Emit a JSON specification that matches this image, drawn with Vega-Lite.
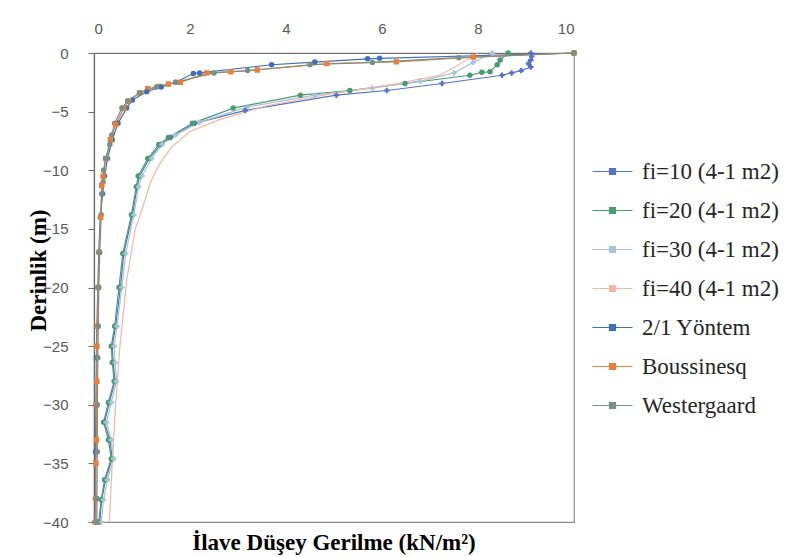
{
 "$schema": "https://vega.github.io/schema/vega-lite/v6.json",
 "width": 480, "height": 469,
 "autosize": "none",
 "padding": {"left": 94, "top": 53, "right": 213, "bottom": 35},
 "background": "white",
 "config": {"view": {"stroke": "#8c8c8c", "strokeWidth": 1.2}},
 "title": {"text": "İlave Düşey Gerilme (kN/m²)", "orient": "bottom", "anchor": "middle", "frame": "group", "font": "Liberation Serif", "fontSize": 23, "fontWeight": "bold", "color": "#000000", "offset": 2},
 "data": {"values": [
  {"s":"fi=10 (4-1 m2)","x":9.1,"d":0},{"s":"fi=10 (4-1 m2)","x":9.12,"d":-0.3},{"s":"fi=10 (4-1 m2)","x":9.1,"d":-0.6},{"s":"fi=10 (4-1 m2)","x":9.05,"d":-0.9},{"s":"fi=10 (4-1 m2)","x":9.1,"d":-1.2},{"s":"fi=10 (4-1 m2)","x":8.9,"d":-1.5},{"s":"fi=10 (4-1 m2)","x":8.7,"d":-1.7},{"s":"fi=10 (4-1 m2)","x":8.5,"d":-1.9},{"s":"fi=10 (4-1 m2)","x":7.25,"d":-2.6},{"s":"fi=10 (4-1 m2)","x":6.1,"d":-3.2},{"s":"fi=10 (4-1 m2)","x":5.05,"d":-3.6},{"s":"fi=10 (4-1 m2)","x":3.15,"d":-4.9},{"s":"fi=10 (4-1 m2)","x":2.1,"d":-6.0},{"s":"fi=10 (4-1 m2)","x":1.6,"d":-7.2},{"s":"fi=10 (4-1 m2)","x":1.4,"d":-7.8},{"s":"fi=10 (4-1 m2)","x":1.15,"d":-9.0},{"s":"fi=10 (4-1 m2)","x":0.95,"d":-10.5},{"s":"fi=10 (4-1 m2)","x":0.9,"d":-11.4},{"s":"fi=10 (4-1 m2)","x":0.8,"d":-13.8},{"s":"fi=10 (4-1 m2)","x":0.62,"d":-17.1},{"s":"fi=10 (4-1 m2)","x":0.55,"d":-20.0},{"s":"fi=10 (4-1 m2)","x":0.45,"d":-23.3},{"s":"fi=10 (4-1 m2)","x":0.38,"d":-25.0},{"s":"fi=10 (4-1 m2)","x":0.4,"d":-26.4},{"s":"fi=10 (4-1 m2)","x":0.44,"d":-28.0},{"s":"fi=10 (4-1 m2)","x":0.32,"d":-29.8},{"s":"fi=10 (4-1 m2)","x":0.22,"d":-31.5},{"s":"fi=10 (4-1 m2)","x":0.33,"d":-33.0},{"s":"fi=10 (4-1 m2)","x":0.38,"d":-34.6},{"s":"fi=10 (4-1 m2)","x":0.24,"d":-36.4},{"s":"fi=10 (4-1 m2)","x":0.16,"d":-38.1},{"s":"fi=10 (4-1 m2)","x":0.12,"d":-40},

  {"s":"fi=20 (4-1 m2)","x":8.63,"d":0},{"s":"fi=20 (4-1 m2)","x":8.46,"d":-0.6},{"s":"fi=20 (4-1 m2)","x":8.4,"d":-1.0},{"s":"fi=20 (4-1 m2)","x":8.25,"d":-1.6},{"s":"fi=20 (4-1 m2)","x":8.08,"d":-1.65},{"s":"fi=20 (4-1 m2)","x":7.83,"d":-1.9},{"s":"fi=20 (4-1 m2)","x":6.48,"d":-2.6},{"s":"fi=20 (4-1 m2)","x":5.33,"d":-3.2},{"s":"fi=20 (4-1 m2)","x":4.3,"d":-3.6},{"s":"fi=20 (4-1 m2)","x":2.9,"d":-4.7},{"s":"fi=20 (4-1 m2)","x":2.05,"d":-6.0},{"s":"fi=20 (4-1 m2)","x":1.55,"d":-7.2},{"s":"fi=20 (4-1 m2)","x":1.35,"d":-7.8},{"s":"fi=20 (4-1 m2)","x":1.12,"d":-9.0},{"s":"fi=20 (4-1 m2)","x":0.92,"d":-10.5},{"s":"fi=20 (4-1 m2)","x":0.88,"d":-11.4},{"s":"fi=20 (4-1 m2)","x":0.78,"d":-13.8},{"s":"fi=20 (4-1 m2)","x":0.6,"d":-17.1},{"s":"fi=20 (4-1 m2)","x":0.52,"d":-20.0},{"s":"fi=20 (4-1 m2)","x":0.43,"d":-23.3},{"s":"fi=20 (4-1 m2)","x":0.36,"d":-25.0},{"s":"fi=20 (4-1 m2)","x":0.38,"d":-26.4},{"s":"fi=20 (4-1 m2)","x":0.42,"d":-28.0},{"s":"fi=20 (4-1 m2)","x":0.3,"d":-29.8},{"s":"fi=20 (4-1 m2)","x":0.2,"d":-31.5},{"s":"fi=20 (4-1 m2)","x":0.3,"d":-33.0},{"s":"fi=20 (4-1 m2)","x":0.36,"d":-34.6},{"s":"fi=20 (4-1 m2)","x":0.22,"d":-36.4},{"s":"fi=20 (4-1 m2)","x":0.15,"d":-38.1},{"s":"fi=20 (4-1 m2)","x":0.1,"d":-40},

  {"s":"fi=30 (4-1 m2)","x":8.3,"d":0},{"s":"fi=30 (4-1 m2)","x":7.9,"d":-0.8},{"s":"fi=30 (4-1 m2)","x":7.5,"d":-1.7},{"s":"fi=30 (4-1 m2)","x":6.8,"d":-2.4},{"s":"fi=30 (4-1 m2)","x":5.8,"d":-3.0},{"s":"fi=30 (4-1 m2)","x":4.6,"d":-3.6},{"s":"fi=30 (4-1 m2)","x":3.2,"d":-4.6},{"s":"fi=30 (4-1 m2)","x":2.2,"d":-5.9},{"s":"fi=30 (4-1 m2)","x":1.7,"d":-7.0},{"s":"fi=30 (4-1 m2)","x":1.42,"d":-7.8},{"s":"fi=30 (4-1 m2)","x":1.2,"d":-9.0},{"s":"fi=30 (4-1 m2)","x":1.0,"d":-10.5},{"s":"fi=30 (4-1 m2)","x":0.93,"d":-11.4},{"s":"fi=30 (4-1 m2)","x":0.83,"d":-13.8},{"s":"fi=30 (4-1 m2)","x":0.66,"d":-17.1},{"s":"fi=30 (4-1 m2)","x":0.58,"d":-20.0},{"s":"fi=30 (4-1 m2)","x":0.48,"d":-23.3},{"s":"fi=30 (4-1 m2)","x":0.42,"d":-25.0},{"s":"fi=30 (4-1 m2)","x":0.44,"d":-26.4},{"s":"fi=30 (4-1 m2)","x":0.47,"d":-28.0},{"s":"fi=30 (4-1 m2)","x":0.36,"d":-29.8},{"s":"fi=30 (4-1 m2)","x":0.26,"d":-31.5},{"s":"fi=30 (4-1 m2)","x":0.36,"d":-33.0},{"s":"fi=30 (4-1 m2)","x":0.41,"d":-34.6},{"s":"fi=30 (4-1 m2)","x":0.28,"d":-36.4},{"s":"fi=30 (4-1 m2)","x":0.2,"d":-38.1},{"s":"fi=30 (4-1 m2)","x":0.15,"d":-40},

  {"s":"fi=40 (4-1 m2)","x":8.0,"d":0},{"s":"fi=40 (4-1 m2)","x":7.6,"d":-1.0},{"s":"fi=40 (4-1 m2)","x":7.2,"d":-1.9},{"s":"fi=40 (4-1 m2)","x":6.2,"d":-2.7},{"s":"fi=40 (4-1 m2)","x":4.9,"d":-3.5},{"s":"fi=40 (4-1 m2)","x":3.6,"d":-4.5},{"s":"fi=40 (4-1 m2)","x":2.6,"d":-5.7},{"s":"fi=40 (4-1 m2)","x":2.0,"d":-6.7},{"s":"fi=40 (4-1 m2)","x":1.62,"d":-8.0},{"s":"fi=40 (4-1 m2)","x":1.36,"d":-9.5},{"s":"fi=40 (4-1 m2)","x":1.18,"d":-11.0},{"s":"fi=40 (4-1 m2)","x":0.98,"d":-13.6},{"s":"fi=40 (4-1 m2)","x":0.86,"d":-15.0},{"s":"fi=40 (4-1 m2)","x":0.68,"d":-19.4},{"s":"fi=40 (4-1 m2)","x":0.54,"d":-25.0},{"s":"fi=40 (4-1 m2)","x":0.45,"d":-30.0},{"s":"fi=40 (4-1 m2)","x":0.38,"d":-35.0},{"s":"fi=40 (4-1 m2)","x":0.32,"d":-40},

  {"s":"2/1 Yöntem","x":10,"d":0},{"s":"2/1 Yöntem","x":5.95,"d":-0.45},{"s":"2/1 Yöntem","x":5.7,"d":-0.5},{"s":"2/1 Yöntem","x":4.6,"d":-0.77},{"s":"2/1 Yöntem","x":3.7,"d":-1.0},{"s":"2/1 Yöntem","x":2.2,"d":-1.7},{"s":"2/1 Yöntem","x":2.07,"d":-1.75},{"s":"2/1 Yöntem","x":1.7,"d":-2.5},{"s":"2/1 Yöntem","x":1.4,"d":-2.9},{"s":"2/1 Yöntem","x":1.1,"d":-3.3},{"s":"2/1 Yöntem","x":0.8,"d":-4.0},{"s":"2/1 Yöntem","x":0.68,"d":-4.7},{"s":"2/1 Yöntem","x":0.5,"d":-6.0},{"s":"2/1 Yöntem","x":0.38,"d":-7.4},{"s":"2/1 Yöntem","x":0.28,"d":-9.0},{"s":"2/1 Yöntem","x":0.22,"d":-10.5},{"s":"2/1 Yöntem","x":0.18,"d":-12.0},{"s":"2/1 Yöntem","x":0.13,"d":-14.0},{"s":"2/1 Yöntem","x":0.1,"d":-17.0},{"s":"2/1 Yöntem","x":0.08,"d":-20.0},{"s":"2/1 Yöntem","x":0.06,"d":-23.3},{"s":"2/1 Yöntem","x":0.05,"d":-26.0},{"s":"2/1 Yöntem","x":0.04,"d":-30.0},{"s":"2/1 Yöntem","x":0.03,"d":-34.0},{"s":"2/1 Yöntem","x":0.03,"d":-38.0},{"s":"2/1 Yöntem","x":0.02,"d":-40},

  {"s":"Boussinesq","x":10,"d":0},{"s":"Boussinesq","x":7.9,"d":-0.35},{"s":"Boussinesq","x":6.3,"d":-0.75},{"s":"Boussinesq","x":4.85,"d":-0.9},{"s":"Boussinesq","x":3.4,"d":-1.45},{"s":"Boussinesq","x":2.85,"d":-1.6},{"s":"Boussinesq","x":2.35,"d":-1.7},{"s":"Boussinesq","x":1.8,"d":-2.5},{"s":"Boussinesq","x":1.55,"d":-2.65},{"s":"Boussinesq","x":1.35,"d":-2.85},{"s":"Boussinesq","x":1.12,"d":-3.05},{"s":"Boussinesq","x":0.95,"d":-3.4},{"s":"Boussinesq","x":0.72,"d":-4.1},{"s":"Boussinesq","x":0.62,"d":-4.7},{"s":"Boussinesq","x":0.45,"d":-6.1},{"s":"Boussinesq","x":0.34,"d":-7.4},{"s":"Boussinesq","x":0.25,"d":-9.0},{"s":"Boussinesq","x":0.19,"d":-10.5},{"s":"Boussinesq","x":0.16,"d":-11.3},{"s":"Boussinesq","x":0.14,"d":-14.0},{"s":"Boussinesq","x":0.11,"d":-17.0},{"s":"Boussinesq","x":0.09,"d":-20.0},{"s":"Boussinesq","x":0.07,"d":-23.3},{"s":"Boussinesq","x":0.06,"d":-25.0},{"s":"Boussinesq","x":0.06,"d":-28.0},{"s":"Boussinesq","x":0.05,"d":-30.0},{"s":"Boussinesq","x":0.05,"d":-33.0},{"s":"Boussinesq","x":0.04,"d":-35.0},{"s":"Boussinesq","x":0.04,"d":-38.0},{"s":"Boussinesq","x":0.04,"d":-40},

  {"s":"Westergaard","x":10,"d":0},{"s":"Westergaard","x":7.6,"d":-0.4},{"s":"Westergaard","x":5.8,"d":-0.8},{"s":"Westergaard","x":4.5,"d":-1.0},{"s":"Westergaard","x":3.2,"d":-1.5},{"s":"Westergaard","x":2.5,"d":-1.7},{"s":"Westergaard","x":1.7,"d":-2.5},{"s":"Westergaard","x":1.3,"d":-2.9},{"s":"Westergaard","x":0.95,"d":-3.4},{"s":"Westergaard","x":0.7,"d":-4.1},{"s":"Westergaard","x":0.58,"d":-4.7},{"s":"Westergaard","x":0.43,"d":-6.0},{"s":"Westergaard","x":0.37,"d":-7.0},{"s":"Westergaard","x":0.33,"d":-7.8},{"s":"Westergaard","x":0.24,"d":-9.0},{"s":"Westergaard","x":0.2,"d":-10.0},{"s":"Westergaard","x":0.19,"d":-11.0},{"s":"Westergaard","x":0.16,"d":-12.0},{"s":"Westergaard","x":0.15,"d":-13.8},{"s":"Westergaard","x":0.12,"d":-17.0},{"s":"Westergaard","x":0.1,"d":-20.0},{"s":"Westergaard","x":0.09,"d":-23.3},{"s":"Westergaard","x":0.08,"d":-26.0},{"s":"Westergaard","x":0.07,"d":-30.0},{"s":"Westergaard","x":0.07,"d":-34.0},{"s":"Westergaard","x":0.06,"d":-38.0},{"s":"Westergaard","x":0.06,"d":-40}
 ]},
 "encoding": {
  "x": {"field": "x", "type": "quantitative", "scale": {"domain": [0, 10], "nice": false, "zero": false},
        "axis": {"orient": "top", "values": [0, 2, 4, 6, 8, 10], "title": null, "grid": false, "ticks": false,
                 "domainColor": "#6e6e6e", "domainWidth": 1.2, "labelFont": "Liberation Sans", "labelFontSize": 15,
                 "labelColor": "#595959", "labelPadding": 17}},
  "y": {"field": "d", "type": "quantitative", "scale": {"domain": [-40, 0], "nice": false, "zero": false},
        "axis": {"values": [0, -5, -10, -15, -20, -25, -30, -35, -40], "grid": false, "title": "Derinlik (m)",
                 "domainColor": "#6e6e6e", "domainWidth": 1.2, "tickColor": "#6e6e6e", "tickSize": 6,
                 "labelFont": "Liberation Sans", "labelFontSize": 15, "labelColor": "#595959", "labelPadding": 20,
                 "titleFont": "Liberation Serif", "titleFontSize": 23, "titleFontWeight": "bold", "titleColor": "#000000",
                 "titleX": -44, "titleY": 217}},
  "color": {"field": "s", "type": "nominal",
            "scale": {"domain": ["fi=10 (4-1 m2)", "fi=20 (4-1 m2)", "fi=30 (4-1 m2)", "fi=40 (4-1 m2)", "2/1 Yöntem", "Boussinesq", "Westergaard"],
                      "range": ["#5572c6", "#4c9a72", "#a9c4d6", "#f2b6a6", "#3f6fb5", "#e5803e", "#7a8f86"]},
            "legend": {"orient": "none", "legendX": 507, "legendY": 107, "title": null, "padding": 0,
                       "labelFont": "Liberation Serif", "labelFontSize": 23, "labelColor": "#262626",
                       "symbolType": "M-2,0H2M-0.3,-0.3H0.3V0.3H-0.3Z", "symbolSize": 400, "symbolStrokeWidth": 1.2,
                       "labelOffset": 18, "rowPadding": 15}},
  "order": {"field": "d", "type": "quantitative", "sort": "descending"}
 },
 "layer": [
  {"mark": {"type": "line", "strokeWidth": 1.2}},
  {"transform": [{"filter": "datum.s !== 'fi=40 (4-1 m2)'"}],
   "mark": {"type": "point", "filled": true, "size": 30, "opacity": 1},
   "encoding": {"shape": {"field": "s", "type": "nominal",
     "scale": {"domain": ["fi=10 (4-1 m2)", "fi=20 (4-1 m2)", "fi=30 (4-1 m2)", "2/1 Yöntem", "Boussinesq", "Westergaard"],
               "range": ["cross", "circle", "cross", "circle", "square", "circle"]},
     "legend": null}}}
 ]
}
